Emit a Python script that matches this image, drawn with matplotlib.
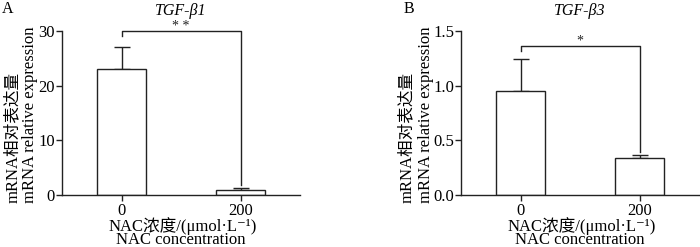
import matplotlib
matplotlib.use("Agg")
import matplotlib.pyplot as plt

plt.rcParams['font.family'] = ['Liberation Serif', 'Noto Sans CJK SC', 'DejaVu Sans']

categories = ['0', '200']
tgfb1_mean = [23.0, 1.0]
tgfb1_err = [4.1, 0.35]
tgfb3_mean = [0.95, 0.335]
tgfb3_err = [0.295, 0.035]
panel_titles = ['TGF-β1', 'TGF-β3']
panel_letters = ['A', 'B']
sig_marks = ['* *', '*']
y_limits = [(0, 30), (0, 1.5)]
y_ticks = [[0, 10, 20, 30], [0.0, 0.5, 1.0, 1.5]]
y_ticklabels = [['0', '10', '20', '30'], ['0.0', '0.5', '1.0', '1.5']]
bracket_levels = [30.0, 1.363]
bracket_gap = [(1.9, 0.5), (0.07, 0.025)]
ylabel_lines = ['mRNA相对表达量', 'mRNA relative expression']
xlabel_lines = ['NAC浓度/(μmol·L⁻¹)', 'NAC concentration']

W, H = 700, 247
fig = plt.figure(figsize=(W / 100, H / 100), dpi=100)


def fx(px):
    return px / W


def fy(py):
    return 1 - py / H


axes_px = [(62, 300), (461, 699)]
ylabel_px = [(17, 34.5), (411, 429.5)]
letter_px = [2, 404]
top_px, bot_px = 31, 195
lc = '#222222'
fs = 12

means = [tgfb1_mean, tgfb3_mean]
errs = [tgfb1_err, tgfb3_err]

for i in range(2):
    l, r = axes_px[i]
    ax = fig.add_axes([fx(l), fy(bot_px), (r - l) / W, (bot_px - top_px) / H])
    x = list(range(len(categories)))
    ax.bar(x, means[i], width=0.42, color='white', edgecolor=lc, linewidth=1.0, zorder=2)
    ax.errorbar(x, means[i], yerr=[[0] * len(x), errs[i]], fmt='none', ecolor=lc,
                elinewidth=1.0, capsize=5.5, capthick=1.0, zorder=1)
    ax.set_xlim(-0.5, 1.5)
    ax.set_ylim(*y_limits[i])
    ax.set_yticks(y_ticks[i])
    ax.set_yticklabels(y_ticklabels[i])
    ax.set_xticks(x)
    ax.set_xticklabels(categories)
    for s in ['top', 'right']:
        ax.spines[s].set_visible(False)
    for s in ['left', 'bottom']:
        ax.spines[s].set_color(lc)
        ax.spines[s].set_linewidth(1.0)
    ax.tick_params(axis='both', colors=lc, labelcolor='black', labelsize=fs, width=1.0)
    ax.tick_params(axis='y', length=4, pad=1)
    ax.tick_params(axis='x', length=4, pad=1.5)

    # significance bracket
    lvl = bracket_levels[i]
    y0 = means[i][0] + errs[i][0] + bracket_gap[i][0]
    y1 = means[i][1] + errs[i][1] + bracket_gap[i][1]
    ax.plot([0, 0, 1, 1], [y0, lvl, lvl, y1], color=lc, linewidth=1.0, clip_on=False)
    ax.annotate(sig_marks[i], xy=(0.5, lvl), xytext=(0, 0.8), textcoords='offset points',
                ha='center', va='baseline', fontsize=10, color=lc)

    cx = (l + r) / 2
    fig.text(fx(cx), fy(15), panel_titles[i], fontsize=11.5, style='italic',
             ha='center', va='baseline')
    fig.text(fx(ylabel_px[i][0]), fy(203), ylabel_lines[0], fontsize=fs, rotation=90,
             rotation_mode='anchor', ha='left', va='baseline')
    fig.text(fx(ylabel_px[i][1]), fy(203), ylabel_lines[1], fontsize=fs, rotation=90,
             rotation_mode='anchor', ha='left', va='baseline')
    fig.text(fx(cx + 2), fy(230.5), xlabel_lines[0], fontsize=fs, ha='center', va='baseline')
    fig.text(fx(cx), fy(243.5), xlabel_lines[1], fontsize=fs, ha='center', va='baseline')
    fig.text(fx(letter_px[i]), fy(13), panel_letters[i], fontsize=11.5, ha='left', va='baseline')

fig.savefig('out.png', dpi=100)
